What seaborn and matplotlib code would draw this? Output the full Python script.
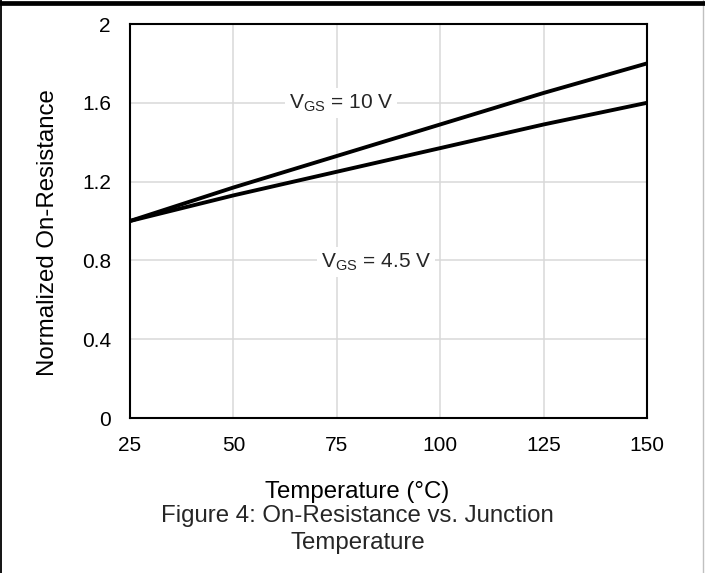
import numpy as np
import pandas as pd
import matplotlib
matplotlib.use("Agg")
import matplotlib.pyplot as plt
import seaborn as sns
from matplotlib.lines import Line2D

# -------------------
# DATA
# -------------------
temps = [25, 50, 75, 100, 125, 150]
r_10v = [1.00, 1.17, 1.33, 1.49, 1.65, 1.80]
r_45v = [1.00, 1.13, 1.25, 1.37, 1.49, 1.60]
x_ticks = [25, 50, 75, 100, 125, 150]
y_ticks = [0, 0.4, 0.8, 1.2, 1.6, 2]
y_tick_labels = ["0", "0.4", "0.8", "1.2", "1.6", "2"]

df = pd.DataFrame({
    "temp": temps * 2,
    "rds": r_10v + r_45v,
    "vgs": ["10 V"] * len(temps) + ["4.5 V"] * len(temps),
})

# -------------------
# STYLE
# -------------------
sns.set_theme(style="white")
plt.rcParams["font.family"] = ["Liberation Sans", "DejaVu Sans"]
TICK_FS = 15
LABEL_FS = 17.3

fig = plt.figure(figsize=(7.05, 5.73), dpi=100)
ax = fig.add_axes([0.1844, 0.2705, 0.7333, 0.6876])

sns.lineplot(data=df, x="temp", y="rds", hue="vgs", palette=["black", "black"],
             linewidth=2.8, legend=False, ax=ax, zorder=3)

ax.set_xlim(25, 150)
ax.set_ylim(0, 2)
ax.set_xticks(x_ticks)
ax.set_yticks(y_ticks)
ax.set_yticklabels(y_tick_labels)
ax.tick_params(axis="both", length=0, labelsize=TICK_FS, colors="black")
ax.tick_params(axis="x", pad=13.3)
ax.tick_params(axis="y", pad=13.7)
ax.grid(True, color="#d9d9d9", linewidth=1.1)
ax.set_axisbelow(True)
for s in ax.spines.values():
    s.set_color("black")
    s.set_linewidth(1.5)

ax.set_xlabel("Temperature (°C)", fontsize=LABEL_FS, color="black")
ax.xaxis.label.set_va("center")
ax.xaxis.set_label_coords(0.439, -0.188)
ax.set_ylabel("Normalized On-Resistance", fontsize=LABEL_FS, color="black")
ax.yaxis.label.set_va("center")
ax.yaxis.label.set_rotation_mode("anchor")
ax.yaxis.set_label_coords(-0.158, 0.4695)

# curve labels with white boxes
box = dict(facecolor="white", edgecolor="none", pad=3)
ax.text(76.0, 1.60, r"V$_{\mathregular{GS}}$ = 10 V", fontsize=TICK_FS, ha="center",
        va="center", bbox=box, zorder=4)
ax.text(84.5, 0.79, r"V$_{\mathregular{GS}}$ = 4.5 V", fontsize=TICK_FS, ha="center",
        va="center", bbox=box, zorder=4)

# caption
fig.text(0.507, 0.0995, "Figure 4: On-Resistance vs. Junction", ha="center", va="center",
         fontsize=LABEL_FS)
fig.text(0.507, 0.0524, "Temperature", ha="center", va="center", fontsize=LABEL_FS)

# page frame
fig.lines.append(Line2D([0.0008, 0.0008], [0, 1], transform=fig.transFigure,
                        color="black", linewidth=1.3))
fig.lines.append(Line2D([0.9975, 0.9975], [0, 1], transform=fig.transFigure,
                        color="#c0c0c0", linewidth=1.0))
fig.lines.append(Line2D([0, 1], [0.9955, 0.9955], transform=fig.transFigure,
                        color="black", linewidth=3.4))

fig.savefig("out.png", dpi=100)
